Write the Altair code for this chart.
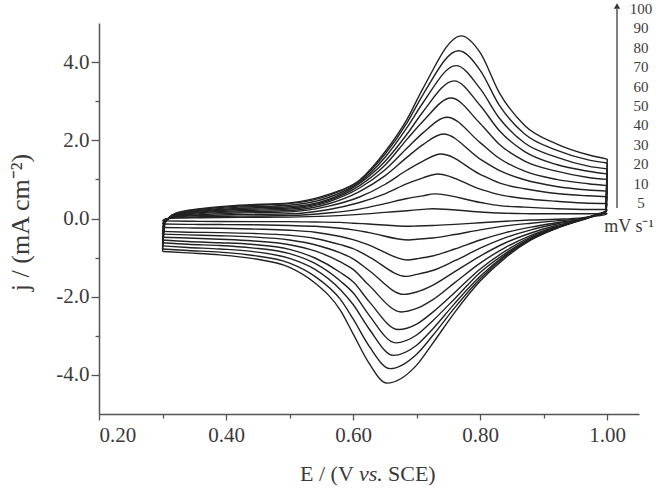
import altair as alt
import pandas as pd

# scan rates (mV/s) and legend labels
rates = [5, 10, 20, 30, 40, 50, 60, 70, 80, 90, 100]
rate_labels = ["100", "90", "80", "70", "60", "50", "40", "30", "20", "10", "5"]

# potential grids (V vs. SCE) for the anodic (forward) and cathodic (reverse) sweeps
fwd_E = [0.300, 0.304, 0.32, 0.36, 0.42, 0.50, 0.56, 0.61, 0.65, 0.685, 0.71, 0.80, 0.83, 0.87, 0.92, 0.97, 1.00]
rev_E = [1.000, 0.997, 0.985, 0.96, 0.92, 0.88, 0.84, 0.80, 0.76, 0.725, 0.70, 0.625, 0.60, 0.58, 0.54, 0.50, 0.44, 0.39, 0.34, 0.30]

# forward sweep current densities (mA cm-2)
fwd_5 = [-0.06, -0.01, 0.01, 0.02, 0.03, 0.036, 0.06, 0.105, 0.156, 0.20, 0.233, 0.166, 0.14, 0.125, 0.12, 0.12, 0.13]
fwd_10 = [-0.14, -0.03, 0.02, 0.045, 0.06, 0.075, 0.14, 0.24, 0.38, 0.51, 0.58, 0.41, 0.33, 0.29, 0.25, 0.23, 0.23]
fwd_20 = [-0.23, -0.04, 0.04, 0.075, 0.10, 0.12, 0.225, 0.41, 0.63, 0.89, 1.04, 0.75, 0.61, 0.51, 0.44, 0.39, 0.385]
fwd_30 = [-0.33, -0.05, 0.055, 0.10, 0.14, 0.17, 0.31, 0.55, 0.87, 1.24, 1.47, 1.13, 0.91, 0.76, 0.64, 0.58, 0.555]
fwd_40 = [-0.40, -0.06, 0.065, 0.125, 0.17, 0.205, 0.37, 0.69, 1.09, 1.57, 1.89, 1.52, 1.23, 0.99, 0.82, 0.73, 0.70]
fwd_50 = [-0.48, -0.07, 0.08, 0.15, 0.20, 0.24, 0.42, 0.78, 1.24, 1.80, 2.19, 1.94, 1.54, 1.21, 1.00, 0.89, 0.84]
fwd_60 = [-0.55, -0.08, 0.09, 0.17, 0.23, 0.27, 0.45, 0.84, 1.36, 2.03, 2.49, 2.43, 1.90, 1.47, 1.21, 1.05, 1.00]
fwd_70 = [-0.62, -0.09, 0.10, 0.19, 0.26, 0.30, 0.48, 0.90, 1.46, 2.16, 2.73, 2.89, 2.25, 1.71, 1.38, 1.21, 1.14]
fwd_80 = [-0.70, -0.10, 0.11, 0.21, 0.29, 0.34, 0.53, 0.93, 1.56, 2.33, 2.96, 3.32, 2.57, 1.93, 1.57, 1.34, 1.27]
fwd_90 = [-0.78, -0.10, 0.12, 0.235, 0.32, 0.38, 0.58, 0.97, 1.64, 2.45, 3.17, 3.79, 2.90, 2.16, 1.75, 1.50, 1.42]
fwd_100 = [-0.84, -0.11, 0.13, 0.25, 0.34, 0.40, 0.61, 0.98, 1.70, 2.54, 3.33, 4.24, 3.22, 2.38, 1.91, 1.63, 1.52]

# reverse sweep current densities (mA cm-2)
rev_5 = [0.13, 0.10, 0.07, 0.015, -0.02, -0.04, -0.07, -0.11, -0.15, -0.18, -0.19, -0.14, -0.12, -0.10, -0.09, -0.08, -0.08, -0.075, -0.07, -0.06]
rev_10 = [0.23, 0.14, 0.09, 0.0, -0.06, -0.12, -0.19, -0.29, -0.41, -0.50, -0.53, -0.36, -0.29, -0.25, -0.20, -0.18, -0.16, -0.155, -0.15, -0.14]
rev_20 = [0.385, 0.16, 0.10, -0.01, -0.11, -0.22, -0.36, -0.55, -0.78, -0.96, -1.03, -0.68, -0.54, -0.46, -0.35, -0.30, -0.27, -0.25, -0.24, -0.23]
rev_30 = [0.555, 0.17, 0.10, -0.02, -0.14, -0.29, -0.49, -0.76, -1.08, -1.33, -1.43, -0.98, -0.77, -0.67, -0.51, -0.43, -0.38, -0.36, -0.35, -0.33]
rev_40 = [0.70, 0.17, 0.10, -0.03, -0.18, -0.37, -0.62, -0.96, -1.36, -1.71, -1.88, -1.33, -1.03, -0.88, -0.67, -0.55, -0.47, -0.44, -0.42, -0.40]
rev_50 = [0.84, 0.17, 0.10, -0.03, -0.21, -0.43, -0.74, -1.14, -1.64, -2.08, -2.30, -1.71, -1.30, -1.11, -0.83, -0.67, -0.57, -0.53, -0.50, -0.48]
rev_60 = [1.00, 0.17, 0.10, -0.04, -0.23, -0.47, -0.83, -1.29, -1.89, -2.40, -2.70, -2.12, -1.62, -1.38, -1.01, -0.79, -0.66, -0.62, -0.59, -0.55]
rev_70 = [1.14, 0.17, 0.10, -0.03, -0.24, -0.50, -0.89, -1.38, -2.05, -2.62, -2.98, -2.47, -1.90, -1.60, -1.15, -0.90, -0.75, -0.69, -0.66, -0.62]
rev_80 = [1.27, 0.17, 0.10, -0.03, -0.25, -0.52, -0.93, -1.48, -2.17, -2.83, -3.24, -2.82, -2.20, -1.82, -1.30, -1.02, -0.84, -0.78, -0.74, -0.70]
rev_90 = [1.42, 0.17, 0.11, -0.02, -0.25, -0.54, -0.96, -1.54, -2.28, -3.00, -3.47, -3.26, -2.57, -2.07, -1.48, -1.14, -0.94, -0.86, -0.82, -0.78]
rev_100 = [1.52, 0.18, 0.12, -0.02, -0.25, -0.55, -1.00, -1.60, -2.40, -3.20, -3.75, -3.70, -2.95, -2.35, -1.65, -1.25, -1.02, -0.93, -0.88, -0.84]

# peak positions and heights
anodic_E = [0.725, 0.728, 0.733, 0.738, 0.742, 0.748, 0.754, 0.759, 0.762, 0.766, 0.770]
anodic_j = [0.25, 0.63, 1.14, 1.65, 2.16, 2.59, 3.08, 3.52, 3.91, 4.29, 4.67]
cathodic_E = [0.688, 0.688, 0.686, 0.684, 0.680, 0.676, 0.671, 0.667, 0.663, 0.658, 0.653]
cathodic_j = [-0.20, -0.55, -1.06, -1.48, -1.94, -2.39, -2.84, -3.18, -3.50, -3.84, -4.21]

fwd_all = [fwd_5, fwd_10, fwd_20, fwd_30, fwd_40, fwd_50, fwd_60, fwd_70, fwd_80, fwd_90, fwd_100]
rev_all = [rev_5, rev_10, rev_20, rev_30, rev_40, rev_50, rev_60, rev_70, rev_80, rev_90, rev_100]

rows = []
for i, v in enumerate(rates):
    for E, j in zip(fwd_E, fwd_all[i]):
        rows.append({"E": E, "j": j, "curve": f"{v}-f"})
    rows.append({"E": anodic_E[i], "j": anodic_j[i], "curve": f"{v}-f"})
    for E, j in zip(rev_E, rev_all[i]):
        rows.append({"E": E, "j": j, "curve": f"{v}-r"})
    rows.append({"E": cathodic_E[i], "j": cathodic_j[i], "curve": f"{v}-r"})
df = pd.DataFrame(rows)

FONT = "Liberation Serif"
AX = "#555555"
TXT = "#3a3a3a"

x_ticks = [0.2, 0.3, 0.4, 0.5, 0.6, 0.7, 0.8, 0.9, 1.0]
y_ticks = [-4, -3, -2, -1, 0, 1, 2, 3, 4]

lines = alt.Chart(df).mark_line(
    interpolate="monotone", color="#222222", strokeWidth=1.4
).encode(
    x=alt.X(
        "E:Q",
        scale=alt.Scale(domain=[0.2, 1.05], nice=False, zero=False),
        axis=alt.Axis(
            values=x_ticks,
            labelExpr="(round(datum.value*10) % 2 == 0) ? format(datum.value, '.2f') : ''",
            title="",
            tickSize={"condition": {"test": "round(datum.value*10) % 2 == 0", "value": 6}, "value": 4},
            labelPadding=4,
            labelFontSize=21,
        ),
    ),
    y=alt.Y(
        "j:Q",
        scale=alt.Scale(domain=[-5, 5], nice=False, zero=False),
        axis=alt.Axis(
            values=y_ticks,
            labelExpr="(datum.value % 2 == 0) ? ((datum.value < 0 ? '-' : '') + format(abs(datum.value), '.1f')) : ''",
            title="j / (mA cm⁻²)",
            titleFontSize=26,
            titleFontWeight="normal",
            titleX=-79,
            titleY=199,
            titleAngle=270,
            titleAlign="center",
            titleBaseline="middle",
            tickSize={"condition": {"test": "datum.value % 2 == 0", "value": 8}, "value": 4},
            labelPadding=2,
            labelFontSize=21,
        ),
    ),
    detail="curve:N",
    order="E:Q",
)

one = pd.DataFrame({"k": [0]})

layers = [lines]

# arrow indicating increasing scan rate
layers.append(
    alt.Chart(one).mark_rule(color=AX, strokeWidth=1.5).encode(
        x=alt.value(518), y=alt.value(-14), y2=alt.value(185)
    )
)
layers.append(
    alt.Chart(one).mark_point(shape="triangle-up", filled=True, size=40, color="#333333", opacity=1).encode(
        x=alt.value(518), y=alt.value(-17)
    )
)

for i, lab in enumerate(rate_labels):
    layers.append(
        alt.Chart(one).mark_text(
            text=lab, font=FONT, fontSize=15, color=TXT, align="center", baseline="middle"
        ).encode(x=alt.value(542), y=alt.value(-14 + i * 19.4))
    )

layers.append(
    alt.Chart(one).mark_text(
        text="mV s⁻¹", font=FONT, fontSize=18, color=TXT, align="center", baseline="middle"
    ).encode(x=alt.value(530), y=alt.value(204))
)

# x-axis title with italic "vs."
title_y = 451
layers.append(
    alt.Chart(one).mark_text(text="E / (V", font=FONT, fontSize=22, color=TXT, align="left", baseline="middle").encode(
        x=alt.value(201), y=alt.value(title_y)
    )
)
layers.append(
    alt.Chart(one).mark_text(text="vs.", font=FONT, fontSize=22, fontStyle="italic", color=TXT, align="left", baseline="middle").encode(
        x=alt.value(260), y=alt.value(title_y)
    )
)
layers.append(
    alt.Chart(one).mark_text(text="SCE)", font=FONT, fontSize=22, color=TXT, align="left", baseline="middle").encode(
        x=alt.value(289), y=alt.value(title_y)
    )
)

chart = alt.layer(*layers).properties(
    width=540,
    height=391,
    autosize=alt.AutoSizeParams(type="none"),
    padding={"left": 99, "top": 23, "right": 24, "bottom": 76},
).configure_view(stroke=None).configure_axis(
    grid=False,
    domainColor=AX,
    domainWidth=1.5,
    tickColor=AX,
    tickWidth=1.3,
    labelFont=FONT,
    titleFont=FONT,
    labelColor=TXT,
    titleColor=TXT,
)

chart.save("out.html", embed_options={"renderer": "svg", "actions": False})
